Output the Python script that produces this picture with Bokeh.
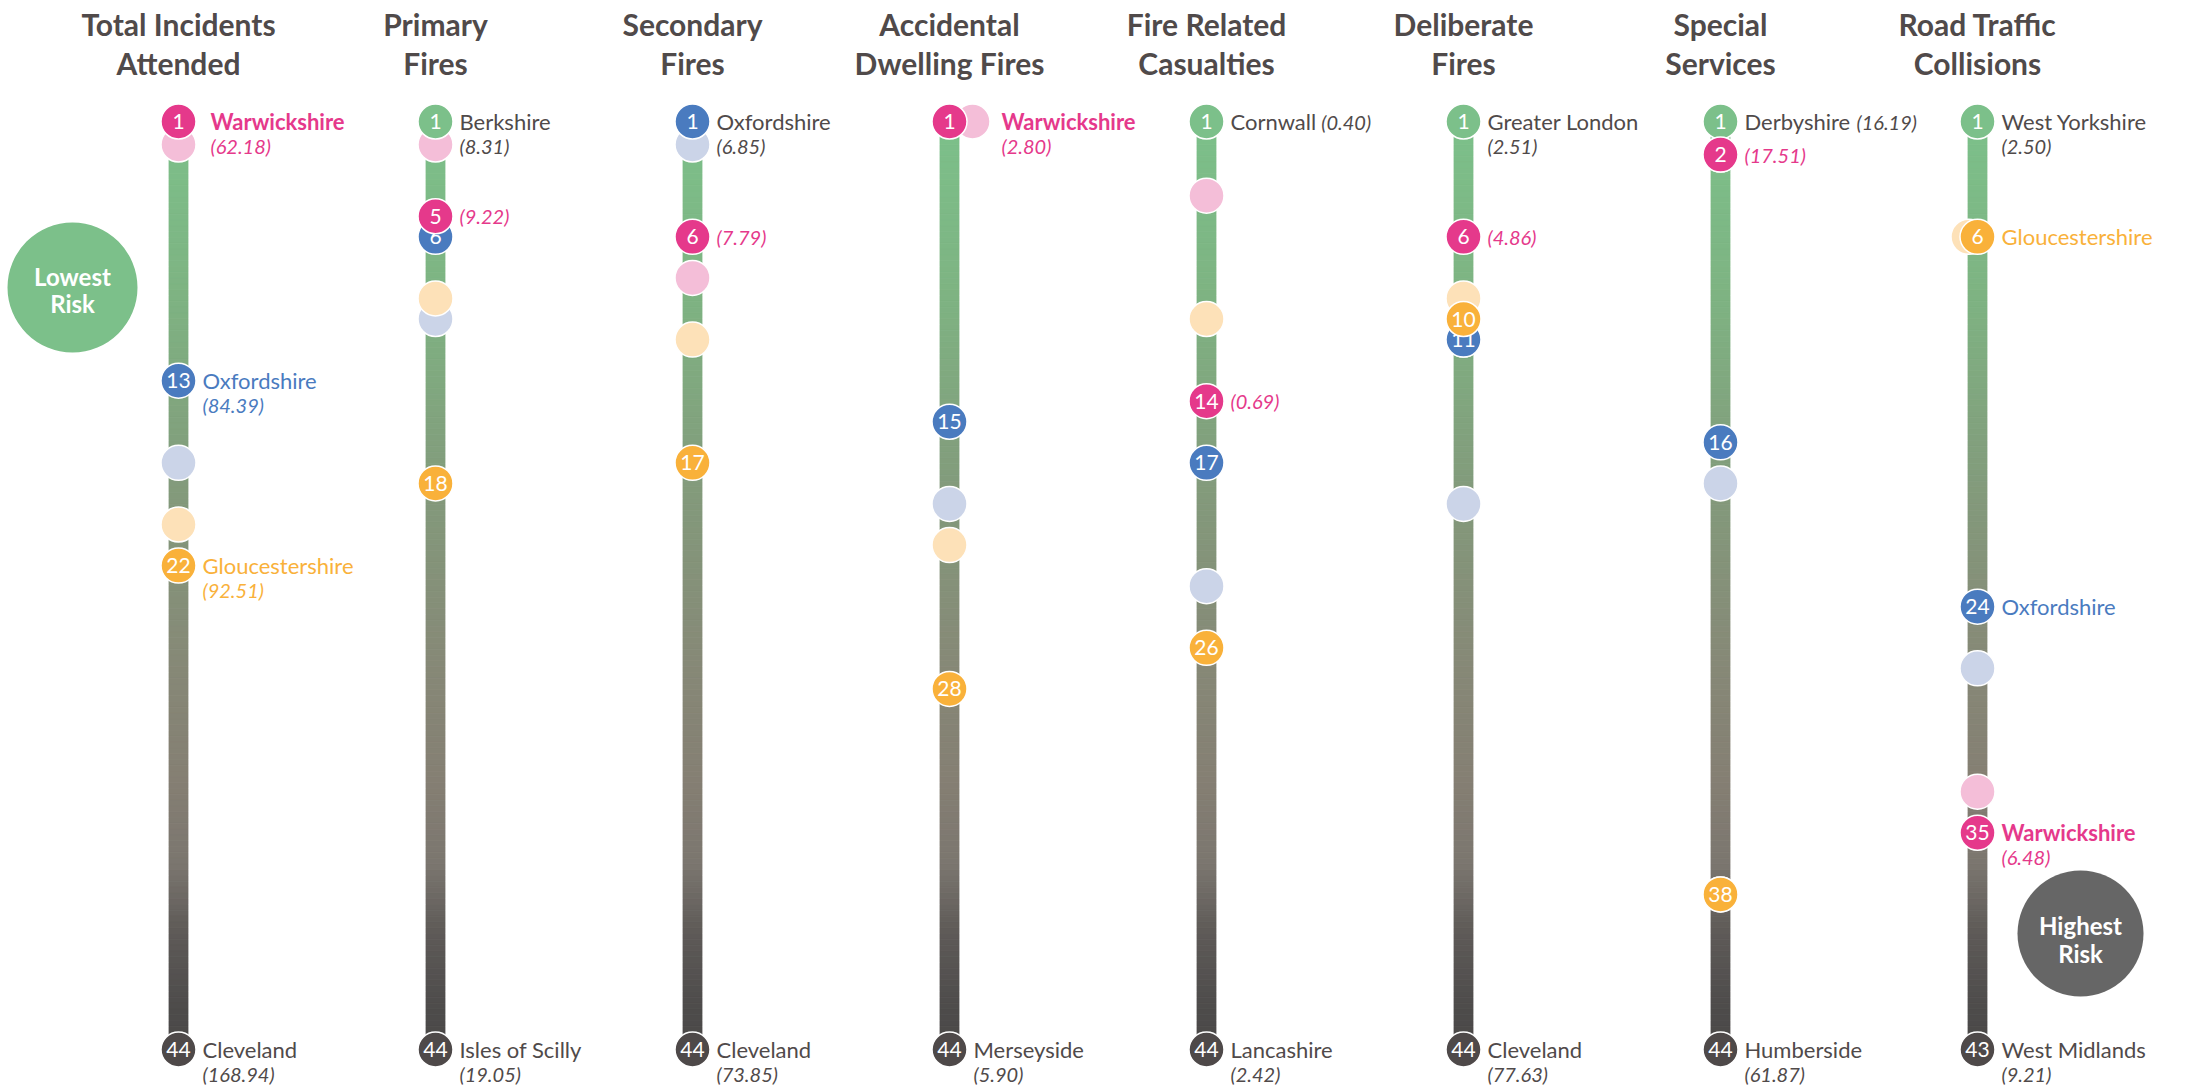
import numpy as np
from bokeh.plotting import figure
from bokeh.models import Range1d, ColumnDataSource
from bokeh.embed import file_html
from bokeh.resources import INLINE
from bokeh.core.properties import value

# ---------------- data ----------------
TITLE_LINE1 = ["Total Incidents", "Primary", "Secondary", "Accidental",
               "Fire Related", "Deliberate", "Special", "Road Traffic"]
TITLE_LINE2 = ["Attended", "Fires", "Fires", "Dwelling Fires",
               "Casualties", "Fires", "Services", "Collisions"]

# ranked first (when not one of the highlighted counties)
LEADER_NAME = [None, "Berkshire", None, None, "Cornwall", "Greater London",
               "Derbyshire", "West Yorkshire"]
LEADER_VALUE = [None, 8.31, None, None, 0.40, 2.51, 16.19, 2.50]

# ranked last
LAST_NAME = ["Cleveland", "Isles of Scilly", "Cleveland", "Merseyside",
             "Lancashire", "Cleveland", "Humberside", "West Midlands"]
LAST_RANK = [44, 44, 44, 44, 44, 44, 44, 43]
LAST_VALUE = [168.94, 19.05, 73.85, 5.90, 2.42, 77.63, 61.87, 9.21]

# highlighted counties: current rank, previous rank (ghost), value
WARWICKSHIRE_RANK = [1, 5, 6, 1, 14, 6, 2, 35]
WARWICKSHIRE_PREV_RANK = [1, 1, 8, 1, 4, 11, 2, 33]
WARWICKSHIRE_VALUE = [62.18, 9.22, 7.79, 2.80, 0.69, 4.86, 17.51, 6.48]

OXFORDSHIRE_RANK = [13, 6, 1, 15, 17, 11, 16, 24]
OXFORDSHIRE_PREV_RANK = [17, 10, 1, 19, 23, 19, 18, 27]
OXFORDSHIRE_VALUE = [84.39, None, 6.85, None, None, None, None, None]

GLOUCESTERSHIRE_RANK = [22, 18, 17, 28, 26, 10, 38, 6]
GLOUCESTERSHIRE_PREV_RANK = [20, 9, 11, 21, 10, 9, 38, 6]
GLOUCESTERSHIRE_VALUE = [92.51, None, None, None, None, None, None, None]

# ---------------- layout ----------------
W, H = 2201, 1089
COL_X0, COL_DX = 178.0, 257.0        # screen px of first column / spacing
RANK_Y0, RANK_DY = 113.0, 20.55      # screen px of rank 0 / px per rank


def xu(px):
    return px / COL_DX


def yu(px):
    return px / RANK_DY


def sx(px):
    return (px - COL_X0) / COL_DX


def sy(py):
    return (py - RANK_Y0) / RANK_DY


TOP_END = sy(121)
BOT_END = sy(1049)
INLINE_COLS = {4, 6}
SAME_RANK_SHIFT = {3: 23, 7: -9}     # side-step of a ghost hidden by its own circle
TOP_GHOST_DROP = 23                  # ghost of a rank-1 under the leader circle
LABEL_DX = 24
CIRCLE = 35
FONT = "Lato"
GRAY = "#504A4A"
GREEN = "#7CC08A"
DARK = "#4E4949"

p = figure(width=W, height=H,
           x_range=Range1d(sx(0), sx(W)),
           y_range=Range1d(sy(H), sy(0)),
           x_axis_location=None, y_axis_location=None,
           output_backend="svg", toolbar_location=None,
           min_border=0, outline_line_color=None)
p.grid.visible = False
p.background_fill_color = "white"
p.border_fill_color = "white"

# ---------------- gradient bars ----------------
STOPS = [(0.0, "#7CC08A"), (0.19, "#7EB382"), (0.41, "#83997B"),
         (0.57, "#868A77"), (0.71, "#857F73"), (0.80, "#7B766F"),
         (0.87, "#5F5B58"), (0.95, "#4E4C4B"), (1.0, "#4A4848")]


def h2rgb(h):
    return np.array([int(h[k:k + 2], 16) for k in (1, 3, 5)], float)


def grad(t):
    for (t0, c0), (t1, c1) in zip(STOPS[:-1], STOPS[1:]):
        if t <= t1:
            f = (t - t0) / (t1 - t0) if t1 > t0 else 0
            c = h2rgb(c0) * (1 - f) + h2rgb(c1) * f
            return "#%02x%02x%02x" % tuple(int(round(v)) for v in c)
    return STOPS[-1][1]


N = 160
edges = np.linspace(TOP_END, BOT_END, N + 1)
mids = (np.arange(N) + 0.5) / N
seg_cols = [grad(t) for t in mids]
bar = dict(left=[], right=[], top=[], bottom=[], color=[])
for i in range(len(TITLE_LINE1)):
    bar["left"] += [i - xu(9.5)] * N
    bar["right"] += [i + xu(9.5)] * N
    bar["top"] += list(edges[:-1])
    bar["bottom"] += list(edges[1:])
    bar["color"] += seg_cols
p.quad(left="left", right="right", top="top", bottom="bottom",
       fill_color="color", line_color="color", line_width=0.8,
       source=ColumnDataSource(bar))


def pin(r, i):
    if r == 1:
        return TOP_END
    if r == LAST_RANK[i]:
        return BOT_END
    return r


COUNTIES = [
    # name, rank, prev, value, solid, ghost, weight
    ("Oxfordshire", OXFORDSHIRE_RANK, OXFORDSHIRE_PREV_RANK, OXFORDSHIRE_VALUE,
     "#4A7BBF", "#CBD4E8", "normal"),
    ("Gloucestershire", GLOUCESTERSHIRE_RANK, GLOUCESTERSHIRE_PREV_RANK,
     GLOUCESTERSHIRE_VALUE, "#F9B13A", "#FDE1B8", "normal"),
    ("Warwickshire", WARWICKSHIRE_RANK, WARWICKSHIRE_PREV_RANK,
     WARWICKSHIRE_VALUE, "#E5398B", "#F4BED8", "bold"),
]

ghost = dict(x=[], y=[], color=[])
ends = dict(x=[], y=[], color=[], text=[])
solid = dict(x=[], y=[], color=[], text=[])
labels = dict(x=[], y=[], text=[], color=[], style=[], size=[])


def add_label(x, y, text, color, style, size):
    labels["x"].append(x)
    labels["y"].append(y)
    labels["text"].append(text)
    labels["color"].append(color)
    labels["style"].append(style)
    labels["size"].append(size)


ncol = len(TITLE_LINE1)
for i in range(ncol):
    # leader and last
    if LEADER_NAME[i] is not None:
        ends["x"].append(i); ends["y"].append(TOP_END)
        ends["color"].append(GREEN); ends["text"].append("1")
        lx = i + xu(LABEL_DX)
        add_label(lx, TOP_END, LEADER_NAME[i], GRAY, "normal", "22px")
        vt = "(%.2f)" % LEADER_VALUE[i]
        if i in INLINE_COLS:
            add_label(lx + xu(len(LEADER_NAME[i]) * 10.6 + 6), TOP_END, vt,
                      GRAY, "italic", "20px")
        else:
            add_label(lx, TOP_END + yu(24), vt, GRAY, "italic", "20px")
    ends["x"].append(i); ends["y"].append(BOT_END)
    ends["color"].append(DARK); ends["text"].append(str(LAST_RANK[i]))
    lx = i + xu(LABEL_DX)
    add_label(lx, BOT_END, LAST_NAME[i], GRAY, "normal", "22px")
    add_label(lx, BOT_END + yu(24), "(%.2f)" % LAST_VALUE[i], GRAY,
              "italic", "20px")

    for name, rk, prev, val, scol, gcol, weight in COUNTIES:
        r = rk[i]
        shift = 0
        if prev[i] is not None:
            gy = pin(prev[i], i)
            if prev[i] == r and i in SAME_RANK_SHIFT:
                shift = SAME_RANK_SHIFT[i]
            elif prev[i] == 1:
                gy = TOP_END + yu(TOP_GHOST_DROP)
            ghost["x"].append(i + xu(shift))
            ghost["y"].append(gy)
            ghost["color"].append(gcol)
        y = pin(r, i)
        solid["x"].append(i); solid["y"].append(y)
        solid["color"].append(scol); solid["text"].append(str(r))
        lcol = scol if (name == "Warwickshire" or r != 1) else GRAY
        extra = 8 if (weight == "bold" and r == 1 and shift == 0) else 0
        lx = i + xu(LABEL_DX + max(shift, 0) + (5 if shift > 0 else 0) + extra)
        show_name = i in (0, ncol - 1) or r == 1
        if show_name:
            add_label(lx, y, name, lcol, weight, "22px")
            if val[i] is not None:
                add_label(lx, y + yu(24), "(%.2f)" % val[i], lcol,
                          "italic", "20px")
        elif val[i] is not None:
            add_label(lx, y, "(%.2f)" % val[i], lcol, "italic", "20px")

# ---------------- draw ----------------
p.scatter("x", "y", source=ColumnDataSource(ghost), size=CIRCLE,
          marker="circle", fill_color="color", line_color="white",
          line_width=1.5)
p.scatter("x", "y", source=ColumnDataSource(ends), size=CIRCLE,
          marker="circle", fill_color="color", line_color="white",
          line_width=1.5)
p.text("x", "y", text="text", source=ColumnDataSource(ends),
       text_font=value(FONT), text_font_size="21px", text_color="white",
       text_align="center", text_baseline="middle")

# solids: one layer per county so later ones sit on top
for name, rk, prev, val, scol, gcol, weight in COUNTIES:
    src = ColumnDataSource(dict(
        x=[xx for xx, c in zip(solid["x"], solid["color"]) if c == scol],
        y=[yy for yy, c in zip(solid["y"], solid["color"]) if c == scol],
        text=[tt for tt, c in zip(solid["text"], solid["color"]) if c == scol],
    ))
    p.scatter("x", "y", source=src, size=CIRCLE, marker="circle",
              fill_color=scol, line_color="white", line_width=1.5)
    p.text("x", "y", text="text", source=src, text_font=value(FONT),
           text_font_size="21px", text_color="white", text_align="center",
           text_baseline="middle")

p.text("x", "y", text="text", source=ColumnDataSource(labels),
       text_font=value(FONT), text_font_size="size", text_color="color",
       text_font_style="style", text_align="left", text_baseline="middle")

# titles
p.text(x=list(range(ncol)), y=[sy(23)] * ncol, text=TITLE_LINE1,
       text_font=value(FONT), text_font_size="30px", text_font_style="bold",
       text_color=GRAY, text_align="center", text_baseline="middle")
p.text(x=list(range(ncol)), y=[sy(62)] * ncol, text=TITLE_LINE2,
       text_font=value(FONT), text_font_size="30px", text_font_style="bold",
       text_color=GRAY, text_align="center", text_baseline="middle")

# risk badges
p.scatter(x=[sx(72), sx(2080)], y=[sy(287), sy(933)], size=[130, 126],
          marker="circle", fill_color=[GREEN, "#666666"], line_color=None)
p.text(x=[sx(72), sx(72), sx(2080), sx(2080)],
       y=[sy(276), sy(303), sy(925), sy(953)],
       text=["Lowest", "Risk", "Highest", "Risk"],
       text_font=value(FONT), text_font_size="24px", text_font_style="bold",
       text_color="white", text_align="center", text_baseline="middle")

open("out.html", "w").write(file_html(p, INLINE))
